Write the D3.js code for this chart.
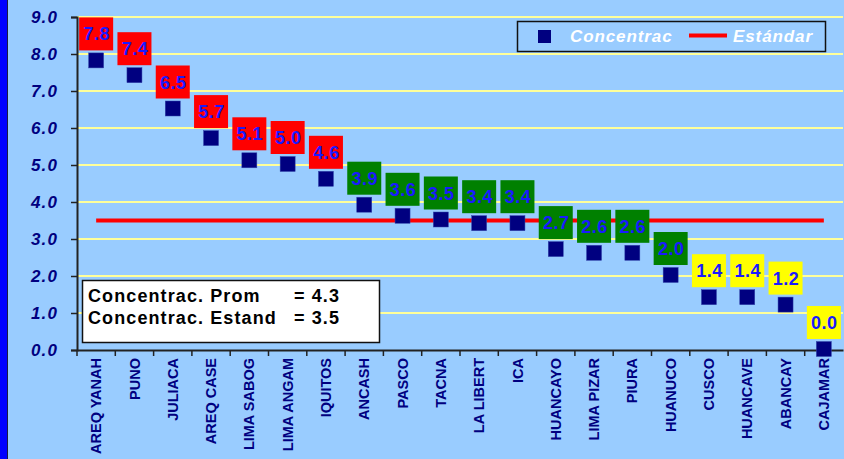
<!DOCTYPE html>
<html>
<head>
<meta charset="utf-8">
<script src="https://cdn.jsdelivr.net/npm/d3@7"></script>
<style>
  body { margin: 0; background: #99ccff; }
  svg { display: block; font-family: "Liberation Sans", Arial, sans-serif; }
</style>
</head>
<body>
<div id="vis-1"></div>
<script>
const ciudades = ["AREQ YANAH", "PUNO", "JULIACA", "AREQ CASE", "LIMA SABOG", "LIMA  ANGAM",
  "IQUITOS", "ANCASH", "PASCO", "TACNA", "LA LIBERT", "ICA", "HUANCAYO", "LIMA PIZAR",
  "PIURA", "HUANUCO", "CUSCO", "HUANCAVE", "ABANCAY", "CAJAMAR"];
const concentrac = [7.8, 7.4, 6.5, 5.7, 5.1, 5.0, 4.6, 3.9, 3.6, 3.5, 3.4, 3.4, 2.7, 2.6, 2.6, 2.0, 1.4, 1.4, 1.2, 0.0];
// color de la etiqueta: r = rojo, v = verde, a = amarillo
const nivel = ["r", "r", "r", "r", "r", "r", "r", "v", "v", "v", "v", "v", "v", "v", "v", "v", "a", "a", "a", "a"];
const estandar = 3.5;
const promedio = 4.3;
const ticksY = [0, 1, 2, 3, 4, 5, 6, 7, 8, 9];

const WIDTH = 844;
const HEIGHT = 459;
const margin = { top: 17, left: 77, right: 1, bottom: 109 };
const colores = { r: "#ff0000", v: "#008000", a: "#ffff00" };

const SVG = d3.select("#vis-1").append("svg")
  .attr("width", WIDTH).attr("height", HEIGHT);

SVG.append("rect").attr("width", WIDTH).attr("height", HEIGHT).attr("fill", "#99ccff");
// franja azul izquierda
SVG.append("rect").attr("x", 0).attr("y", 0).attr("width", 7).attr("height", HEIGHT).attr("fill", "#0000ff");
SVG.append("line").attr("x1", 7.5).attr("x2", 7.5).attr("y1", 0).attr("y2", HEIGHT)
  .attr("stroke", "#1a1a40").attr("stroke-width", 1);

const escalaX = d3.scaleBand()
  .domain(ciudades)
  .range([margin.left, WIDTH - margin.right]);

const escalaY = d3.scaleLinear()
  .domain([0, 9])
  .range([HEIGHT - margin.bottom, margin.top]);

// grilla
SVG.append("g")
  .selectAll("line")
  .data(ticksY.filter(d => d > 0))
  .join("line")
  .attr("x1", margin.left).attr("x2", WIDTH - 1)
  .attr("y1", d => escalaY(d)).attr("y2", d => escalaY(d))
  .attr("stroke", "#ffff99").attr("stroke-width", 2);

// eje Y
const ejeY = SVG.append("g")
  .attr("transform", `translate(${margin.left}, 0)`)
  .call(d3.axisLeft(escalaY).tickValues(ticksY).tickFormat(d3.format(".1f")).tickSize(6).tickPadding(13));
ejeY.select(".domain").attr("stroke", "#222").attr("stroke-width", 2);
ejeY.selectAll(".tick line").attr("stroke", "#222").attr("stroke-width", 1.5);
ejeY.selectAll("text")
  .attr("fill", "#000080")
  .attr("font-size", 17)
  .attr("font-weight", "bold")
  .attr("font-style", "italic")
  .attr("letter-spacing", 1.1)
  .attr("font-family", "Liberation Sans, Arial, sans-serif");

// eje X
const ejeX = SVG.append("g")
  .attr("transform", `translate(0, ${escalaY(0)})`)
  .call(d3.axisBottom(escalaX).tickSize(0));
ejeX.select(".domain").attr("stroke", "#222").attr("stroke-width", 2);
ejeX.selectAll(".tick text")
  .attr("transform", "rotate(-90)")
  .attr("x", -8).attr("y", 0).attr("dy", "0.35em")
  .attr("text-anchor", "end")
  .attr("fill", "#000080")
  .attr("font-size", 14.5)
  .attr("font-weight", "bold")
  .attr("font-family", "Liberation Sans, Arial, sans-serif");
// marcas entre categorias
SVG.append("g")
  .selectAll("line")
  .data(ciudades)
  .join("line")
  .attr("x1", d => escalaX(d)).attr("x2", d => escalaX(d))
  .attr("y1", escalaY(0)).attr("y2", escalaY(0) + 6)
  .attr("stroke", "#222").attr("stroke-width", 1.5);

// linea estandar
SVG.append("line")
  .attr("x1", escalaX(ciudades[0]) + escalaX.bandwidth() / 2)
  .attr("x2", escalaX(ciudades[ciudades.length - 1]) + escalaX.bandwidth() / 2)
  .attr("y1", escalaY(estandar)).attr("y2", escalaY(estandar))
  .attr("stroke", "#ff0000").attr("stroke-width", 4);

const datos = ciudades.map((c, i) => ({ c: c, v: concentrac[i], n: nivel[i] }));
const cx = d => escalaX(d.c) + escalaX.bandwidth() / 2;

// etiquetas
const etiquetas = SVG.append("g").selectAll("g").data(datos).join("g")
  .attr("transform", d => `translate(${cx(d)}, ${escalaY(d.v) - 11})`);
etiquetas.append("rect")
  .attr("x", -17).attr("y", -33).attr("width", 34).attr("height", 33)
  .attr("fill", d => colores[d.n]);
etiquetas.append("text")
  .attr("x", 0.5).attr("y", -10)
  .attr("text-anchor", "middle")
  .attr("fill", "#1a1aff")
  .attr("font-size", 18)
  .attr("font-weight", "bold")
  .attr("letter-spacing", 0.5)
  .text(d => d3.format(".1f")(d.v));

// puntos
SVG.append("g").selectAll("rect").data(datos).join("rect")
  .attr("x", d => cx(d) - 7.5).attr("y", d => escalaY(d.v) - 8.5)
  .attr("width", 15).attr("height", 15)
  .attr("fill", "#000080")
  .attr("stroke", "#3344aa").attr("stroke-width", 0.5);

// leyenda
const leyenda = SVG.append("g");
leyenda.append("rect")
  .attr("x", 517.5).attr("y", 21.5).attr("width", 308).attr("height", 30)
  .attr("fill", "#99ccff").attr("stroke", "#111").attr("stroke-width", 1.5);
leyenda.append("rect")
  .attr("x", 538).attr("y", 30).attr("width", 13).attr("height", 13).attr("fill", "#000080");
leyenda.append("text")
  .attr("x", 570).attr("y", 42)
  .attr("fill", "#ffffff").attr("font-size", 17).attr("font-weight", "bold").attr("font-style", "italic")
  .attr("letter-spacing", 0.9)
  .text("Concentrac");
leyenda.append("line")
  .attr("x1", 689).attr("x2", 727).attr("y1", 35.5).attr("y2", 35.5)
  .attr("stroke", "#ff0000").attr("stroke-width", 4);
leyenda.append("text")
  .attr("x", 733).attr("y", 42)
  .attr("fill", "#ffffff").attr("font-size", 17).attr("font-weight", "bold").attr("font-style", "italic")
  .attr("letter-spacing", 0.9)
  .text("Estándar");

// cuadro resumen
const resumen = SVG.append("g");
resumen.append("rect")
  .attr("x", 82.5).attr("y", 280.5).attr("width", 297).attr("height", 62)
  .attr("fill", "#ffffff").attr("stroke", "#111").attr("stroke-width", 1.5);
const lineas = [["Concentrac. Prom", promedio], ["Concentrac. Estand", estandar]];
lineas.forEach((l, i) => {
  resumen.append("text")
    .attr("x", 88).attr("y", 302 + i * 22)
    .attr("font-size", 18).attr("font-weight", "bold").attr("fill", "#000")
    .attr("letter-spacing", 1.1)
    .text(l[0]);
  resumen.append("text")
    .attr("x", 294).attr("y", 302 + i * 22)
    .attr("font-size", 18).attr("font-weight", "bold").attr("fill", "#000")
    .attr("letter-spacing", 1.1)
    .text("= " + d3.format(".1f")(l[1]));
});
</script>
</body>
</html>
